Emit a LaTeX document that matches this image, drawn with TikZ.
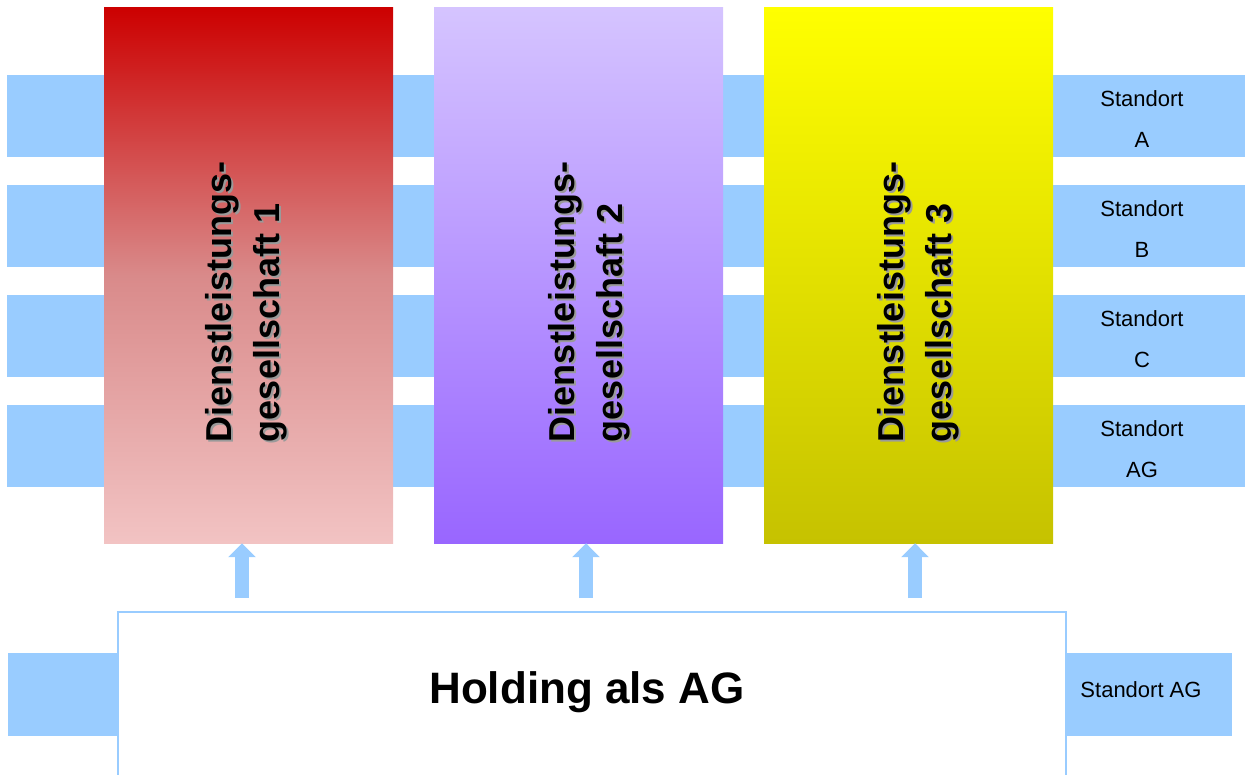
\documentclass[tikz,border=0pt]{standalone}
\usepackage{fontspec}
\setmainfont{Liberation Sans}
\usetikzlibrary{arrows.meta}
\definecolor{barblue}{HTML}{99CCFF}
\definecolor{redtop}{HTML}{CC0000}
\definecolor{redmid}{HTML}{D98A8A}
\definecolor{redbot}{HTML}{F2C3C3}
\definecolor{purtop}{HTML}{D5C4FF}
\definecolor{purbot}{HTML}{9966FF}
\definecolor{yeltop}{HTML}{FFFF00}
\definecolor{yelbot}{HTML}{C6C200}
\definecolor{shadowgray}{HTML}{9A9A9A}
\tikzset{
  bar/.style={fill=barblue, draw=none},
  column/.style={draw=none, inner sep=0, minimum width=289pt, minimum height=536pt},
  coltext/.style={rotate=90, align=left, font=\fontsize{36}{48}\selectfont\bfseries, inner sep=0},
  coltextshadow/.style={coltext, text=shadowgray},
  stdtext/.style={align=center, font=\fontsize{22}{41}\selectfont, inner sep=0},
  uparrow/.style={draw=barblue, line width=14pt, -{Triangle[length=14pt,width=27pt]}, shorten >=0pt},
}
\begin{document}
\begin{tikzpicture}[x=1pt,y=-1pt]
\useasboundingbox (0,0) rectangle (1247,774);
\clip (0,0) rectangle (1247,774);
% blue bars
\fill[bar] (7,75) rectangle (1245,157);
\fill[bar] (7,185) rectangle (1245,267);
\fill[bar] (7,295) rectangle (1245,377);
\fill[bar] (7,405) rectangle (1245,487);
\fill[bar] (8,653) rectangle (118,736);
\fill[bar] (1067,653) rectangle (1232,736);
% columns
\node[column, top color=redtop, bottom color=redbot, middle color=redmid] (c1) at (248.5,275) {};
\node[column, top color=purtop, bottom color=purbot] (c2) at (578.5,275) {};
\node[column, top color=yeltop, bottom color=yelbot] (c3) at (908.5,275) {};
% column texts with shadow
\node[coltextshadow] (t1s) at (248,304) {Dienstleistungs-\\gesellschaft 1};
\node[coltext] (t1) at (246,302) {Dienstleistungs-\\gesellschaft 1};
\node[coltextshadow] (t2s) at (591,304) {Dienstleistungs-\\gesellschaft 2};
\node[coltext] (t2) at (589,302) {Dienstleistungs-\\gesellschaft 2};
\node[coltextshadow] (t3s) at (920,304) {Dienstleistungs-\\gesellschaft 3};
\node[coltext] (t3) at (918,302) {Dienstleistungs-\\gesellschaft 3};
% Standort labels
\node[stdtext] (sa) at (1142,119) {Standort\\A};
\node[stdtext] (sb) at (1142,229) {Standort\\B};
\node[stdtext] (sc) at (1142,339) {Standort\\C};
\node[stdtext] (sag) at (1142,449) {Standort\\AG};
% holding
\draw[draw=barblue, line width=1.5pt, fill=white] (118,612) rectangle (1066,790);
\node[font=\fontsize{44}{50}\selectfont\bfseries, inner sep=0] (hold) at (587,692) {Holding als AG};
\node[font=\fontsize{22}{26}\selectfont, inner sep=0] (sthold) at (1141,690) {Standort AG};
% arrows
\coordinate (a1) at (242,598);
\coordinate (a2) at (586,598);
\coordinate (a3) at (915,598);
\draw[uparrow] (a1) -- (a1 |- c1.south);
\draw[uparrow] (a2) -- (a2 |- c2.south);
\draw[uparrow] (a3) -- (a3 |- c3.south);
\end{tikzpicture}
\end{document}
